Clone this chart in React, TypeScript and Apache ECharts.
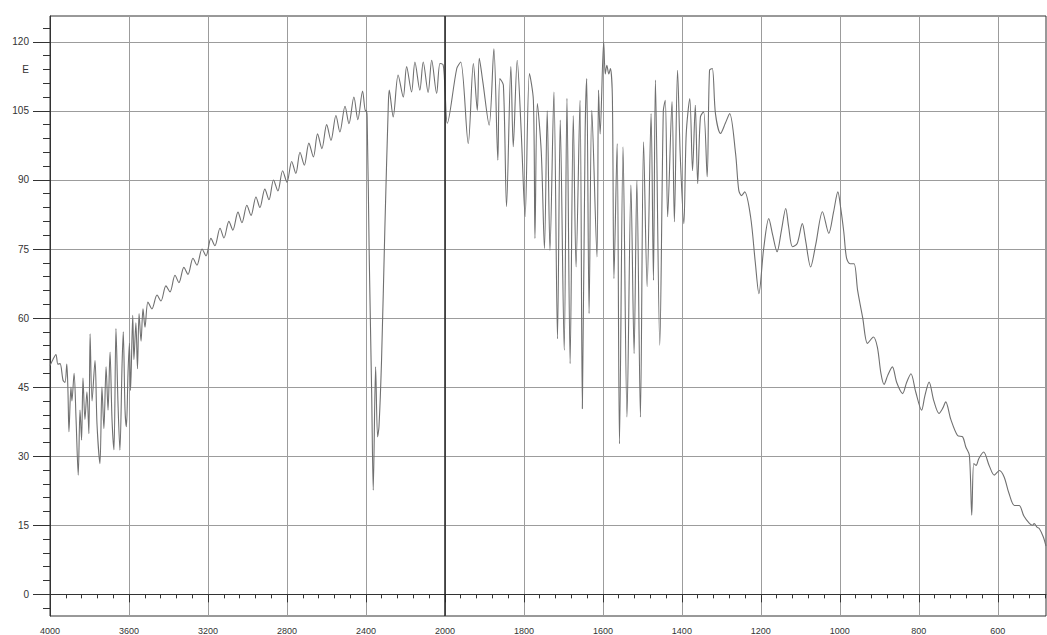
import React, { useEffect, useRef } from "react";
import * as echarts from "echarts";

// ---- Data: wavenumber (cm-1), transmittance ----
const waterNoise: [number, number][] = [
  [4000, 49.7], [3985, 51], [3970, 52.1], [3960, 50], [3949, 50.1], [3934, 46.5], [3924, 46], [3915, 50],
  [3909, 44], [3904, 35.3], [3894, 45], [3889, 42], [3878, 48], [3868, 38], [3857, 25.9], [3848, 40],
  [3840, 33.5], [3833, 47], [3823, 38], [3813, 44], [3803, 34.9], [3797, 56.6], [3787, 42], [3772, 50.8],
  [3762, 37], [3747, 28.4], [3737, 45], [3727, 36], [3716, 49.4], [3706, 40], [3696, 52.6], [3686, 38],
  [3676, 31.4], [3666, 57.7], [3656, 42], [3646, 31.3], [3635, 50], [3629, 57], [3620, 40], [3613, 36.4],
  [3605, 48], [3598, 54.5], [3592, 44.3], [3581, 60.6], [3575, 51], [3565, 59], [3557, 49], [3549, 61],
  [3539, 55], [3529, 62], [3519, 58],
];

const fringesHigh: [number, number][] = [
  [3504, 63.5], [3484, 62], [3458, 65], [3438, 63.7], [3413, 67], [3392, 65.7], [3367, 69.3], [3347, 67.7],
  [3322, 71], [3301, 69.5], [3276, 73], [3256, 71.5], [3230, 75], [3210, 73.5], [3185, 77.3], [3165, 75.7],
  [3139, 79.5], [3119, 77.4], [3094, 81], [3074, 79.1], [3048, 83], [3028, 80.7], [3003, 84.5], [2982, 82.3],
  [2957, 86.3], [2937, 84], [2912, 88], [2891, 85.7], [2868, 90], [2846, 87.6], [2822, 92], [2800, 89.5],
  [2776, 94], [2755, 91.4], [2734, 96], [2712, 93.2], [2689, 98], [2666, 95], [2645, 100], [2623, 96.8],
  [2599, 102], [2577, 98.6], [2552, 104], [2532, 100.4], [2506, 106], [2486, 102.2], [2461, 108], [2441, 103.1],
  [2417, 109.3], [2403, 105],
];

const co2Band: [number, number][] = [
  [2400, 105.1], [2394, 103.7], [2383, 72.6], [2371, 43.7], [2363, 22.6], [2351, 49.4], [2341, 34.2],
  [2334, 36.4], [2321, 50.8], [2304, 79.8], [2287, 105.9], [2282, 109.5], [2262, 103.7],
];

const fringesMid: [number, number][] = [
  [2237, 112.8], [2211, 108], [2194, 114.6], [2169, 109.1], [2152, 115.6], [2127, 109.5], [2110, 115.6],
  [2085, 109], [2067, 116], [2042, 108.8], [2025, 115.3], [2009, 115], [2000, 110],
];

const fingerprint: [number, number][] = [
  [1994, 102.3], [1970, 114.2], [1960, 115.6], [1941, 97.9], [1928, 115.3], [1918, 105.1], [1913, 116.4],
  [1904, 111.3], [1888, 101.9], [1876, 118.5], [1866, 94.3], [1861, 112], [1852, 110.6], [1844, 84.2],
  [1833, 114.6], [1827, 97.2], [1817, 116], [1807, 100.8], [1797, 82], [1786, 113.1], [1776, 107.3],
  [1772, 77.3], [1766, 106.6], [1756, 96], [1748, 75.1], [1741, 105], [1734, 74.7], [1724, 109.1],
  [1715, 55.5], [1708, 103], [1698, 53], [1691, 107.7], [1683, 50.1], [1675, 104], [1668, 71.1],
  [1658, 107.3], [1652, 40.3], [1645, 100], [1641, 112], [1635, 61], [1628, 105.1], [1615, 73.3],
  [1611, 109.5], [1607, 100], [1598, 120], [1594, 113], [1590, 114.9], [1585, 113], [1581, 114.2],
  [1576, 108], [1572, 68.6], [1564, 97.9], [1558, 32.7], [1549, 97.2], [1539, 38.5], [1529, 88.9],
  [1521, 52.3], [1514, 89.9], [1505, 38.5], [1497, 98.3], [1488, 66.8], [1478, 104.4], [1472, 68.2],
  [1467, 111.7], [1456, 54.1], [1447, 105], [1442, 107.3], [1436, 82], [1425, 107], [1419, 80.9],
  [1411, 113.8], [1404, 95], [1395, 80.5], [1389, 100], [1380, 107.7], [1373, 92], [1366, 106.2],
  [1360, 89.2], [1353, 103.7], [1345, 104.8], [1336, 90.7], [1330, 113.8], [1323, 114.2], [1315, 104.4],
];

const lowRange: [number, number][] = [
  [1302, 100.1], [1290, 102.3], [1279, 104.4], [1264, 95.7], [1256, 87.8], [1249, 86.6], [1241, 87.4],
  [1226, 82], [1214, 72], [1205, 65.3], [1193, 75], [1180, 81.6], [1170, 78], [1159, 74.4], [1148, 79],
  [1137, 83.8], [1130, 80], [1120, 75.5], [1108, 76.2], [1095, 80.5], [1087, 77], [1074, 71.1],
  [1061, 76], [1044, 83.1], [1028, 78.4], [1016, 83], [1005, 87.4], [998, 84], [990, 78.7], [983, 73],
  [974, 71.8], [964, 71.8], [955, 66], [942, 60], [930, 54.5], [915, 55.9], [905, 53.7], [896, 48],
  [888, 45.6], [879, 47.5], [867, 49.4], [856, 46], [841, 43.6], [831, 46], [820, 47.9], [808, 44],
  [793, 40], [785, 43], [774, 46.1], [762, 42], [749, 39.3], [739, 40.5], [732, 41.8], [719, 38],
  [702, 34.5], [689, 34.2], [681, 32], [672, 30.2], [666, 17.2], [661, 28.4], [655, 28], [648, 29.5],
  [636, 30.9], [622, 28], [609, 25.9], [596, 26.9], [584, 25.5], [572, 22], [558, 19.3], [546, 19.3],
  [534, 17], [520, 15.4], [512, 15], [508, 15.4], [501, 14.6], [495, 14.3], [485, 12.5], [478, 10.5],
];

// ---- Axis labels ----
const xTickLabels = [4000, 3600, 3200, 2800, 2400, 2000, 1800, 1600, 1400, 1200, 1000, 800, 600];
const yTickLabels = [0, 15, 30, 45, 60, 75, 90, 105, 120];
const yUnitLabel = "E";
const yUnitLabelAt = 114;
const X_START = 4000;
const X_BREAK = 2000;
const X_END = 478;
const Y_MIN = -4.7;
const Y_MAX = 125.6;

// piecewise axis: 400 cm-1 per unit above 2000, 200 cm-1 per unit below
function toPos(w: number) {
  return w >= X_BREAK ? (X_START - w) / 400 : 5 + (X_BREAK - w) / 200;
}
function toWn(u: number) {
  return u <= 5 ? X_START - u * 400 : X_BREAK - (u - 5) * 200;
}

export default function App() {
  const ref = useRef<HTMLDivElement>(null);
  useEffect(() => {
    if (!ref.current) return;
    const chart = echarts.init(ref.current, null, { renderer: "svg" });
    const all = [...waterNoise, ...fringesHigh, ...co2Band, ...fringesMid, ...fingerprint, ...lowRange];
    const data = all.map(([w, t]) => [toPos(w), t]);
    const xMax = toPos(X_END);
    const xMajor = xTickLabels.map(toPos);
    const xMinor: number[] = [];
    for (let w = X_START; w >= X_BREAK; w -= 80) xMinor.push(toPos(w));
    for (let w = X_BREAK - 40; w >= X_END; w -= 40) xMinor.push(toPos(w));
    const yMinor: number[] = [];
    for (let v = -3; v <= 123; v += 3) yMinor.push(v);
    const yLabelVals = [...yTickLabels, yUnitLabelAt];
    const font = "Liberation Sans, Arial, sans-serif";
    const axisColor = "#333";
    const gridColor = "#9c9c9c";

    chart.setOption({
      animation: false,
      grid: {
        left: 50, right: 1, top: 16, bottom: 19,
        show: true, borderColor: axisColor, borderWidth: 1,
      },
      xAxis: [
        {
          type: "value", min: 0, max: xMax, position: "bottom",
          axisLine: { show: true, lineStyle: { color: axisColor } },
          axisTick: { show: true, customValues: xMajor, length: 8, lineStyle: { color: axisColor } },
          axisLabel: {
            customValues: xMajor,
            formatter: (v: number) => String(Math.round(toWn(v))),
            fontSize: 9, color: axisColor, margin: 10, fontFamily: font,
          },
          splitLine: { show: true, lineStyle: { color: gridColor, width: 1 } },
        },
        {
          type: "value", min: 0, max: xMax, position: "bottom",
          axisLine: { show: false },
          axisTick: { show: true, customValues: xMinor, length: 4, lineStyle: { color: axisColor } },
          axisLabel: { show: false },
          splitLine: { show: false },
        },
      ],
      yAxis: [
        {
          type: "value", min: Y_MIN, max: Y_MAX, position: "left",
          axisLine: { show: true, lineStyle: { color: axisColor } },
          axisTick: { show: true, customValues: yTickLabels, length: 17, lineStyle: { color: axisColor } },
          axisLabel: {
            customValues: yLabelVals,
            formatter: (v: number) => (Math.abs(v - yUnitLabelAt) < 0.01 ? yUnitLabel : String(v)),
            fontSize: 10, color: axisColor, margin: 21, fontFamily: font,
          },
          splitLine: { show: true, lineStyle: { color: gridColor, width: 1 } },
        },
        {
          type: "value", min: Y_MIN, max: Y_MAX, position: "left",
          axisLine: { show: false },
          axisTick: { show: true, customValues: yMinor, length: 7, lineStyle: { color: axisColor } },
          axisLabel: { show: false },
          splitLine: { show: false },
        },
      ],
      series: [
        {
          type: "line",
          xAxisIndex: 0, yAxisIndex: 0,
          data,
          symbol: "none",
          showSymbol: false,
          smooth: 0.3,
          lineStyle: { color: "#707070", width: 1.1 },
          markLine: {
            silent: true, symbol: "none", animation: false,
            label: { show: false },
            lineStyle: { color: "#222", width: 1.5, type: "solid" },
            data: [{ xAxis: toPos(X_BREAK) }],
          },
        },
      ],
    });
    return () => chart.dispose();
  }, []);
  return (
    <div
      ref={ref}
      style={{ position: "fixed", left: 0, top: 0, width: 1047, height: 635, background: "#fff" }}
    />
  );
}
